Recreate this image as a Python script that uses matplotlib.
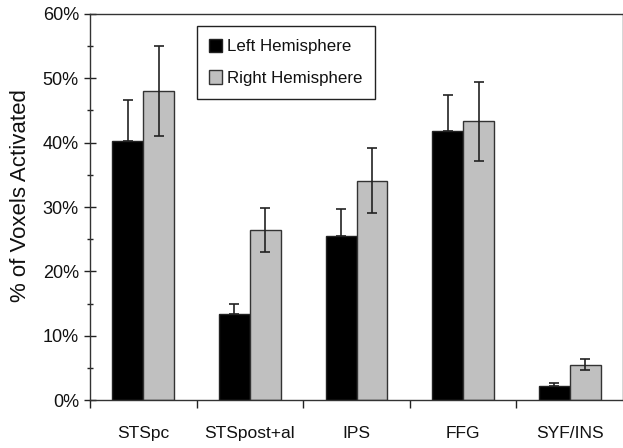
import numpy as np
import matplotlib
matplotlib.use("Agg")
import matplotlib.pyplot as plt
from matplotlib.ticker import FuncFormatter, MultipleLocator

# -----------------------------
# Data
# -----------------------------
regions = ["STSpc", "STSpost+al", "IPS", "FFG", "SYF/INS"]
left_pct = [40.2, 13.3, 25.5, 41.8, 2.1]
right_pct = [48.1, 26.4, 34.1, 43.3, 5.5]
left_err = [6.5, 1.6, 4.2, 5.6, 0.6]
right_err = [7.0, 3.4, 5.1, 6.2, 0.8]
series_labels = ["Left Hemisphere", "Right Hemisphere"]

plt.rcParams["font.family"] = ["Liberation Sans", "DejaVu Sans"]

fig = plt.figure(figsize=(6.23, 4.48), dpi=100)
ax = fig.add_axes([90 / 623, 48 / 448, 533 / 623, 386 / 448])

x = np.arange(len(regions))
w = 0.29

ax.bar(x - w / 2, left_pct, w, color="black", edgecolor="#222222",
       linewidth=1.0, label=series_labels[0], zorder=2)
ax.bar(x + w / 2, right_pct, w, color="#c0c0c0", edgecolor="#333333",
       linewidth=1.0, label=series_labels[1], zorder=2)

# error bars: left bars only show upper half (hidden inside black bar)
ax.errorbar(x - w / 2, left_pct, yerr=[np.zeros(len(left_err)), left_err],
            fmt="none", ecolor="#222222", elinewidth=1.2, capsize=3.5,
            capthick=1.2, zorder=3)
ax.errorbar(x + w / 2, right_pct, yerr=right_err, fmt="none",
            ecolor="#222222", elinewidth=1.2, capsize=3.5, capthick=1.2,
            zorder=3)

ax.set_xlim(-0.5, len(regions) - 0.5)
ax.set_ylim(0, 60)

# y axis
ax.yaxis.set_major_locator(MultipleLocator(10))
ax.yaxis.set_minor_locator(MultipleLocator(5))
ax.yaxis.set_major_formatter(FuncFormatter(lambda v, p: f"{v:.0f}%"))
ax.tick_params(axis="y", which="major", direction="inout", length=8,
               width=1.0, labelsize=13, pad=4, colors="#222222",
               labelcolor="#111111")
ax.tick_params(axis="y", which="minor", direction="inout", length=5,
               width=1.0, colors="#222222")

# x axis: ticks at the category boundaries, labels at the centers
ax.set_xticks(np.arange(-0.5, len(regions) - 0.5, 1.0))
ax.set_xticklabels([])
ax.set_xticks(x, minor=True)
ax.set_xticklabels(regions, minor=True)
ax.tick_params(axis="x", which="major", direction="out", length=6,
               width=1.0, colors="#222222")
ax.tick_params(axis="x", which="minor", length=0, labelsize=12.5, pad=19,
               labelcolor="#111111")

ax.set_ylabel("% of Voxels Activated", fontsize=16, color="#111111")
ax.yaxis.label.set_va("center")
ax.yaxis.set_label_coords(-0.131, 0.53)

for side in ["left", "bottom", "top", "right"]:
    ax.spines[side].set_color("#333333")
    ax.spines[side].set_linewidth(1.0)

leg = ax.legend(loc="upper left", bbox_to_anchor=(0.2, 0.969),
                borderaxespad=0, fancybox=False, framealpha=1,
                edgecolor="#222222", fontsize=12.2, handlelength=0.75,
                handleheight=0.85, handletextpad=0.3, labelspacing=0.95,
                borderpad=0.75)
leg.get_frame().set_linewidth(1.0)
for t in leg.get_texts():
    t.set_color("#111111")

fig.savefig("out.png", dpi=100)
